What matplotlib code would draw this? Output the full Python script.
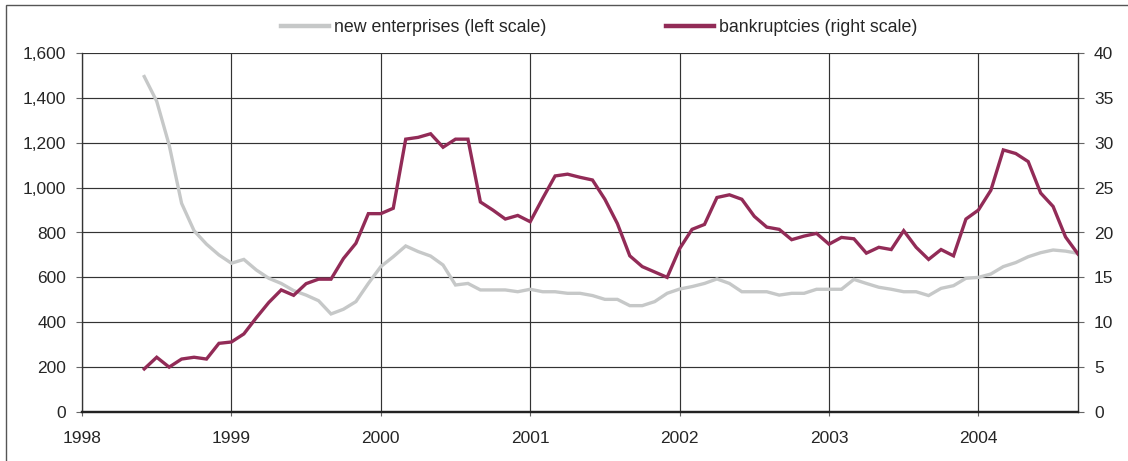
import matplotlib
matplotlib.use("Agg")
import matplotlib.pyplot as plt
from matplotlib.lines import Line2D
from matplotlib.patches import Rectangle
import numpy as np

plt.rcParams['font.family'] = ['Liberation Sans', 'DejaVu Sans']

# Monthly data, June 1998 .. September 2004
start_year, start_month = 1998, 6
new_enterprises = [
    1495, 1385, 1190, 930, 808, 748, 700,            # Jun-Dec 1998
    663, 680, 633, 596, 573, 541, 521, 496, 437, 458, 492, 573,   # 1999
    648, 692, 740, 715, 695, 655, 566, 573, 544, 544, 544, 536,   # 2000
    547, 536, 536, 529, 529, 519, 502, 502, 474, 474, 492, 529,   # 2001
    548, 559, 573, 593, 573, 536, 536, 536, 521, 529, 529, 547,   # 2002
    547, 547, 591, 573, 556, 547, 536, 536, 519, 551, 563, 596,   # 2003
    600, 615, 648, 666, 692, 710, 722, 717, 707,                  # Jan-Sep 2004
]
bankruptcies = [
    4.8, 6.1, 5.0, 5.9, 6.1, 5.9, 7.65,
    7.8, 8.7, 10.5, 12.2, 13.6, 13.0, 14.3, 14.8, 14.8, 17.1, 18.8, 22.1,
    22.1, 22.7, 30.4, 30.6, 31.0, 29.5, 30.4, 30.4, 23.4, 22.5, 21.5, 21.9,
    21.2, 23.8, 26.3, 26.5, 26.15, 25.85, 23.7, 21.0, 17.4, 16.2, 15.6, 15.0,
    18.2, 20.35, 20.9, 23.9, 24.2, 23.7, 21.8, 20.6, 20.35, 19.2, 19.6, 19.9,
    18.7, 19.45, 19.3, 17.7, 18.35, 18.1, 20.2, 18.35, 17.0, 18.1, 17.4, 21.5,
    22.5, 24.7, 29.2, 28.8, 27.9, 24.4, 22.9, 19.5, 17.6,
]
left_ticks = [0, 200, 400, 600, 800, 1000, 1200, 1400, 1600]
right_ticks = [0, 5, 10, 15, 20, 25, 30, 35, 40]
year_ticks = [1998, 1999, 2000, 2001, 2002, 2003, 2004]
labels = ["new enterprises (left scale)", "bankruptcies (right scale)"]

n = len(new_enterprises)
t = np.array([start_year + (start_month - 1 + i) / 12 for i in range(n)])

grey = "#C6C8C8"
maroon = "#922B57"
gridc = "#333333"
textc = "#262626"

fig = plt.figure(figsize=(11.28, 4.61), dpi=100)
ax = fig.add_axes([82/1128, 1-412/461, (1078-82)/1128, (412-53)/461])
ax2 = ax.twinx()

ax.plot(t, new_enterprises, color=grey, lw=2.4, solid_joinstyle='miter', zorder=3)
ax2.plot(t, bankruptcies, color=maroon, lw=2.4, solid_joinstyle='miter', zorder=3)

ax.set_xlim(1998, 2004 + 8/12)
ax.set_ylim(0, 1600)
ax2.set_ylim(0, 40)
ax.set_yticks(left_ticks)
ax.set_yticklabels([f"{v:,}" for v in left_ticks])
ax2.set_yticks(right_ticks)
ax2.set_yticklabels([str(v) for v in right_ticks])
ax.set_xticks(year_ticks)
ax.set_xticklabels([str(y) for y in year_ticks])

ax.grid(True, color=gridc, lw=0.85)
ax.set_axisbelow(True)
for a in (ax, ax2):
    a.spines['top'].set_visible(False)
    for s in ('left', 'right'):
        a.spines[s].set_color(gridc)
        a.spines[s].set_linewidth(0.85)
    a.spines['bottom'].set_color('#222222')
    a.spines['bottom'].set_linewidth(1.6)

ax.tick_params(axis='y', length=4.5, width=0.8, color='#666666', pad=7,
               labelsize=12.5, labelcolor=textc)
ax2.tick_params(axis='y', length=4.5, width=0.8, color='#666666', pad=7,
                labelsize=12.5, labelcolor=textc)
ax.tick_params(axis='x', length=3, width=0.8, color='#666666', pad=11,
               labelsize=12.5, labelcolor=textc)

leg_kw = dict(loc='center left', frameon=False, fontsize=12.8, handlelength=2.7,
              handletextpad=0.3, borderpad=0, borderaxespad=0, labelcolor=textc)
fig.legend([Line2D([], [], color=grey, lw=3.2)], [labels[0]],
           bbox_to_anchor=(281/1128, 1-28/461), **leg_kw)
fig.legend([Line2D([], [], color=maroon, lw=3.2)], [labels[1]],
           bbox_to_anchor=(666/1128, 1-28/461), **leg_kw)

fig.patches.append(Rectangle((5.5/1128, -0.05), 1.1, 1.05 - 5.5/461,
                             transform=fig.transFigure, fill=False,
                             edgecolor='#555555', lw=1.0, zorder=0))

fig.savefig("out.png", dpi=100)
